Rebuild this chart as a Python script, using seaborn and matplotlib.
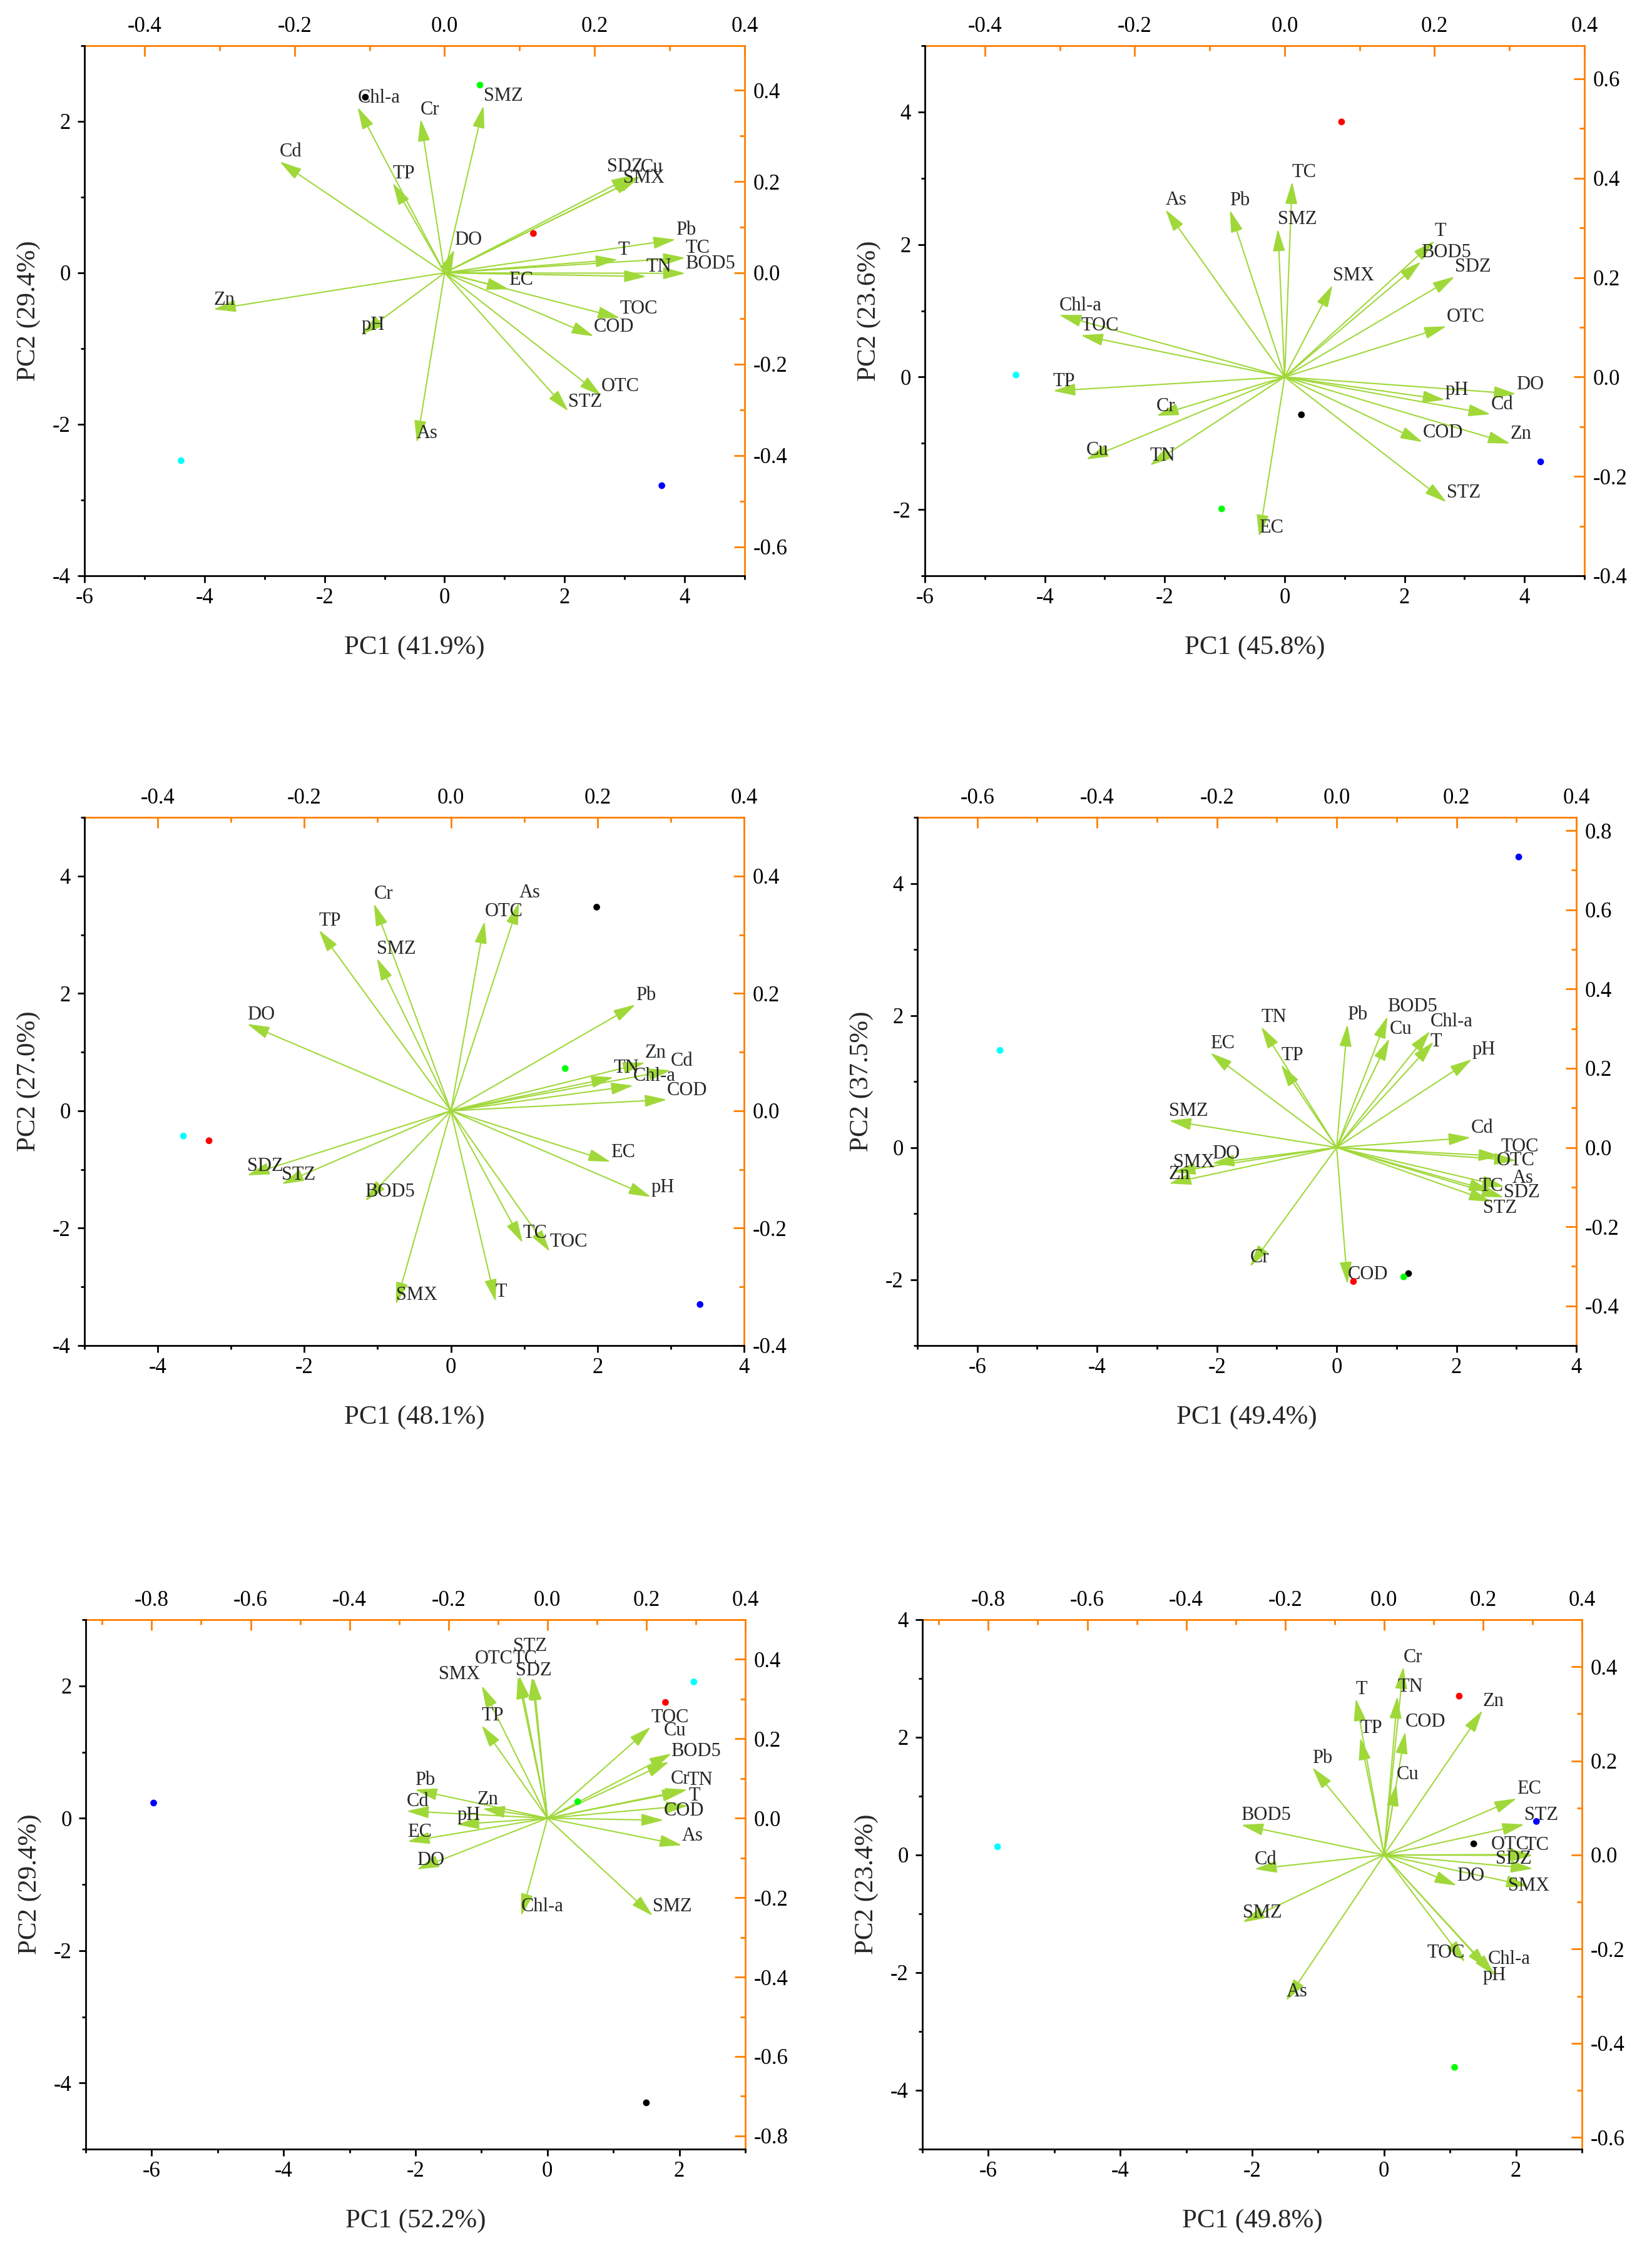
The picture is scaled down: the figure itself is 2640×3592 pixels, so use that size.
import numpy as np
import pandas as pd
import matplotlib
matplotlib.use("Agg")
import matplotlib.pyplot as plt
import seaborn as sns
from matplotlib.ticker import MultipleLocator, FuncFormatter

# variables shown as loading arrows (same order in every panel)
variables = ["T", "pH", "DO", "EC", "TOC", "COD", "BOD5", "TN", "TP", "Chl-a", "Cu",
             "Zn", "Pb", "Cd", "Cr", "As", "SMZ", "SDZ", "SMX", "STZ", "OTC", "TC"]

# loadings (top / right axes)
p1_load_x = [0.231, -0.111, 0.013, 0.086, 0.234, 0.199, 0.321, 0.269, -0.069, -0.116, 0.261,
             -0.308, 0.308, -0.220, -0.032, -0.037, 0.052, 0.252, 0.256, 0.165, 0.209, 0.321]
p1_load_y = [0.029, -0.135, 0.051, -0.036, -0.099, -0.139, -0.001, -0.008, 0.197, 0.363, 0.211,
             -0.080, 0.073, 0.244, 0.337, -0.372, 0.366, 0.214, 0.207, -0.303, -0.269, 0.033]

p2_load_x = [0.200, 0.214, 0.309, -0.034, -0.272, 0.184, 0.182, -0.180, -0.309, -0.301, -0.265,
             0.301, -0.073, 0.275, -0.171, -0.159, -0.009, 0.227, 0.064, 0.216, 0.216, 0.010]
p2_load_y = [0.274, -0.046, -0.034, -0.322, 0.084, -0.131, 0.232, -0.178, -0.028, 0.125, -0.166,
             -0.134, 0.336, -0.075, -0.078, 0.337, 0.298, 0.202, 0.185, -0.252, 0.102, 0.393]

p3_load_x = [0.061, 0.273, -0.278, 0.218, 0.135, 0.295, -0.117, 0.222, -0.180, 0.249, np.nan,
             0.265, 0.252, 0.300, -0.105, 0.093, -0.101, -0.278, -0.075, -0.231, 0.046, 0.098]
p3_load_y = [-0.325, -0.147, 0.148, -0.087, -0.240, 0.019, -0.154, 0.057, 0.308, 0.043, np.nan,
             0.082, 0.181, 0.069, 0.353, 0.355, 0.260, -0.110, -0.330, -0.125, 0.323, -0.225]

p4_load_x = [0.162, 0.226, -0.208, -0.211, 0.274, 0.018, 0.085, -0.126, -0.093, 0.156, 0.088,
             -0.280, 0.018, 0.224, -0.145, 0.280, -0.280, 0.279, -0.273, 0.258, 0.300, 0.258]
p4_load_y = [0.267, 0.223, -0.040, 0.239, -0.022, -0.345, 0.331, 0.305, 0.209, 0.294, 0.275,
             -0.091, 0.311, 0.025, -0.301, -0.099, 0.068, -0.126, -0.062, -0.137, -0.033, -0.110]

p5_load_x = [0.285, -0.183, -0.264, -0.283, 0.209, 0.235, 0.251, 0.283, -0.133, -0.053, 0.246,
             -0.131, -0.268, -0.285, 0.277, 0.272, 0.213, -0.028, -0.133, -0.057, -0.060, -0.031]
p5_load_y = [0.032, -0.016, -0.129, -0.059, 0.230, -0.005, 0.163, 0.072, 0.234, -0.246, 0.142,
             0.024, 0.072, 0.018, 0.068, -0.068, -0.246, 0.353, 0.334, 0.359, 0.356, 0.355]

p6_load_x = [-0.057, 0.224, 0.147, 0.268, 0.164, 0.043, -0.289, 0.027, -0.048, 0.210, 0.025,
             0.199, -0.145, -0.262, 0.039, -0.198, -0.286, 0.301, 0.292, 0.284, 0.299, 0.301]
p6_load_y = [0.332, -0.256, -0.065, 0.120, -0.228, 0.262, 0.064, 0.337, 0.249, -0.242, 0.151,
             0.307, 0.186, -0.030, 0.400, -0.310, -0.143, -0.029, -0.066, 0.065, 0.001, -0.001]

# sample scores (bottom / left axes)
groups = ["S1", "S2", "S3", "S4", "S5"]
p1_pc1 = [-1.32, 1.48, 0.59, 3.62, -4.39]
p1_pc2 = [2.32, 0.52, 2.48, -2.81, -2.48]
p2_pc1 = [0.28, 0.95, -1.05, 4.27, -4.48]
p2_pc2 = [-0.57, 3.85, -1.99, -1.28, 0.03]
p3_pc1 = [1.99, -3.30, 1.56, 3.40, -3.65]
p3_pc2 = [3.47, -0.51, 0.72, -3.30, -0.43]
p4_pc1 = [1.20, 0.28, 1.12, 3.04, -5.62]
p4_pc2 = [-1.91, -2.03, -1.96, 4.40, 1.47]
p5_pc1 = [1.50, 1.79, 0.46, -5.97, 2.22]
p5_pc2 = [-4.30, 1.75, 0.25, 0.23, 2.06]
p6_pc1 = [1.36, 1.14, 1.07, 2.31, -5.86]
p6_pc2 = [0.19, 2.70, -3.61, 0.57, 0.14]

pc1_var = [41.9, 45.8, 48.1, 49.4, 52.2, 49.8]
pc2_var = [29.4, 23.6, 27.0, 37.5, 29.4, 23.4]

# layout (pixels of the 2640x3592 canvas): frame left, top, right, bottom
W, H = 2640, 3592
panels = [
    dict(lx=p1_load_x, ly=p1_load_y, sx=p1_pc1, sy=p1_pc2, xlim=(-6, 5), ylim=(-4, 3),
         fx=12.5, fy=6.03, rect=(135, 73, 1190, 920)),
    dict(lx=p2_load_x, ly=p2_load_y, sx=p2_pc1, sy=p2_pc2, xlim=(-6, 5), ylim=(-3, 5),
         fx=12.5, fy=7.5, rect=(1478, 73, 2532, 920)),
    dict(lx=p3_load_x, ly=p3_load_y, sx=p3_pc1, sy=p3_pc2, xlim=(-5, 4), ylim=(-4, 5),
         fx=10, fy=10, rect=(135, 1306, 1189, 2150)),
    dict(lx=p4_load_x, ly=p4_load_y, sx=p4_pc1, sy=p4_pc2, xlim=(-7, 4), ylim=(-3, 5),
         fx=10, fy=6, rect=(1466, 1306, 2519, 2150)),
    dict(lx=p5_load_x, ly=p5_load_y, sx=p5_pc1, sy=p5_pc2, xlim=(-7, 3), ylim=(-5, 3),
         fx=7.5, fy=6, rect=(137, 2588, 1191, 3434)),
    dict(lx=p6_load_x, ly=p6_load_y, sx=p6_pc1, sy=p6_pc2, xlim=(-7, 3), ylim=(-5, 4),
         fx=7.5, fy=8, rect=(1474, 2588, 2528, 3434)),
]

# label nudges in pixels: (dx, height of label centre above tip, ha)
nudges = {
    (0, "SDZ"): (-43, 13, "left"), (0, "SMX"): (-21, 0, "left"),
    (3, "T"): (-6, 0, "left"), (3, "OTC"): (-32, 0, "left"), (3, "As"): (13, 14, "left"),
    (3, "TC"): (-20, 8, "left"), (3, "SDZ"): (0, 8, "left"), (3, "STZ"): (-13, -10, "left"),
    (4, "STZ"): (-10, 47, "left"), (4, "OTC"): (-8, 29, "right"), (4, "TC"): (-31, 30, "left"),
    (4, "SDZ"): (-29, 12, "left"), (4, "SMX"): (-3, 18, "right"), (4, "Cu"): (-9, 50, "left"),
    (4, "Cr"): (-22, 20, "left"), (4, "BOD5"): (-1, 3, "left"), (4, "Zn"): (-9, 15, "left"),
    (5, "TOC"): (0, 15, "right"), (5, "pH"): (-19, 0, "left"), (5, "OTC"): (-65, 16, "left"),
    (5, "TC"): (-13, 16, "left"), (5, "SDZ"): (-60, 15, "left"), (5, "SMX"): (-33, 0, "left"),
}

ARROW = "#A0D83A"
ORANGE = "#FF8000"
palette = {"S1": "black", "S2": "#FF0000", "S3": "#00FF00", "S4": "#0000FF", "S5": "#00FFFF"}
PX = 72 / 100  # pixel -> point

sns.set_style("white")
plt.rcParams["font.family"] = ["Liberation Serif", "DejaVu Serif"]
plt.rcParams["axes.unicode_minus"] = False

fig = plt.figure(figsize=(W / 100, H / 100), dpi=100)

one_dec = FuncFormatter(lambda v, pos: f"{round(v, 1) + 0.0:.1f}")
integer = FuncFormatter(lambda v, pos: f"{int(round(v))}")

for i, p in enumerate(panels):
    l, t, r, b = p["rect"]
    w_px, h_px = r - l, b - t
    rect = [l / W, 1 - b / H, w_px / W, h_px / H]

    # loadings axes (top / right, orange)
    axl = fig.add_axes(rect)
    axl.set_xlim(p["xlim"][0] / p["fx"], p["xlim"][1] / p["fx"])
    axl.set_ylim(p["ylim"][0] / p["fy"], p["ylim"][1] / p["fy"])
    axl.xaxis.tick_top()
    axl.yaxis.tick_right()
    for s in ["left", "bottom"]:
        axl.spines[s].set_visible(False)
    for s in ["top", "right"]:
        axl.spines[s].set_color(ORANGE)
        axl.spines[s].set_linewidth(2)
    for axis in (axl.xaxis, axl.yaxis):
        axis.set_major_locator(MultipleLocator(0.2))
        axis.set_minor_locator(MultipleLocator(0.1))
        axis.set_major_formatter(one_dec)
    axl.tick_params(which="both", direction="in", color=ORANGE, labelcolor="black",
                    labelsize=25, width=2, pad=10, top=True, right=True, bottom=False,
                    left=False, labeltop=True, labelright=True, labelbottom=False,
                    labelleft=False)
    axl.tick_params(which="major", length=12)
    axl.tick_params(which="minor", length=6)

    for name, lx, ly in zip(variables, p["lx"], p["ly"]):
        if np.isnan(lx):
            continue
        axl.annotate("", xy=(lx, ly), xytext=(0, 0),
                     arrowprops=dict(arrowstyle="-|>,head_length=1.1,head_width=0.3",
                                     mutation_scale=20, color=ARROW, lw=1.5,
                                     shrinkA=0, shrinkB=0), zorder=3)
        dx, dy, ha = nudges.get((i, name), (0, 15, "left"))
        axl.annotate(name, xy=(lx, ly), xytext=(dx * PX, dy * PX), textcoords="offset points",
                     ha=ha, va="center", fontsize=22, zorder=4)

    # scores axes (bottom / left, black)
    ax = fig.add_axes(rect)
    ax.set_facecolor("none")
    df = pd.DataFrame({"PC1": p["sx"], "PC2": p["sy"], "group": groups})
    sns.scatterplot(data=df, x="PC1", y="PC2", hue="group", palette=palette, s=60,
                    linewidth=0, legend=False, ax=ax, zorder=5)
    ax.set_xlim(*p["xlim"])
    ax.set_ylim(*p["ylim"])
    ax.spines["top"].set_visible(False)
    ax.spines["right"].set_visible(False)
    for s in ["left", "bottom"]:
        ax.spines[s].set_color("black")
        ax.spines[s].set_linewidth(2)
    for axis in (ax.xaxis, ax.yaxis):
        axis.set_major_locator(MultipleLocator(2))
        axis.set_minor_locator(MultipleLocator(1))
        axis.set_major_formatter(integer)
    ax.tick_params(which="both", direction="out", color="black", labelcolor="black",
                   labelsize=25, width=2, top=False, right=False, bottom=True, left=True)
    ax.tick_params(which="major", length=8)
    ax.tick_params(which="minor", length=4)
    ax.tick_params(axis="x", pad=6)
    ax.tick_params(axis="y", pad=8)

    ax.set_xlabel(f"PC1 ({pc1_var[i]:.1f}%)", fontsize=31)
    ax.set_ylabel(f"PC2 ({pc2_var[i]:.1f}%)", fontsize=31)
    ax.xaxis.set_label_coords(0.5, -115 / h_px)
    ax.xaxis.label.set_va("center")
    ax.yaxis.set_label_coords(-89 / w_px, 0.5)
    ax.yaxis.label.set_va("center")

fig.savefig("out.png", dpi=100, facecolor="white")
